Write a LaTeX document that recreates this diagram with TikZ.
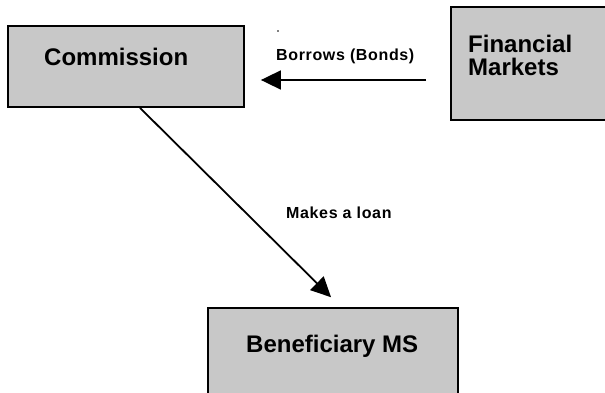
\documentclass[tikz,border=0pt]{standalone}
\usepackage{fontspec}
\setmainfont{Liberation Sans}
\newfontfamily\labelfont[LetterSpace=4]{Liberation Sans}
\usetikzlibrary{arrows.meta,calc}
\definecolor{boxgray}{RGB}{200,200,200}
\tikzset{
  entity/.style={draw=black, fill=boxgray, line width=1.8pt, inner sep=0pt, rectangle},
  title/.style={anchor=base west, inner sep=0pt, font=\bfseries\fontsize{24}{23}\selectfont},
  flowlabel/.style={anchor=base west, inner sep=0pt, font=\labelfont\bfseries\fontsize{16}{16}\selectfont},
  flow/.style={line width=1.8pt, -{Triangle[length=20pt,width=19pt]}},
}
\begin{document}
\begin{tikzpicture}[x=1pt,y=-1pt]
  \useasboundingbox (0,0) rectangle (605,393);
  \clip (0,0) rectangle (605,393);

  % boxes
  \node[entity, minimum width=236pt, minimum height=81pt] (com) at (126,66.5) {};
  \node[entity, minimum width=169pt, minimum height=113pt] (fin) at (535.5,63.5) {};
  \node[entity, minimum width=250pt, minimum height=96pt] (ben) at (333,356) {};

  % box titles (base of a two-line title is its last line)
  \node[title] (comtext) at (44,66) {Commission};
  \node[title, align=left] (fintext) at (468,76) {Financial\\Markets};
  \node[title] (bentext) at (246,352) {Beneficiary MS};

  % borrowing on the markets
  \coordinate (flowy) at (0,80);
  \draw[flow, shorten <=24pt, shorten >=16pt] (fin.west |- flowy) -- (com.east |- flowy);
  \node[flowlabel] (borrow) at (276,61) {Borrows (Bonds)};
  \fill (278,31) circle (0.9pt) coordinate (dot);

  % loan to the member state
  \coordinate (loanstart) at ($(com.south)+(14,0)$);
  \coordinate (loanx) at ($(com.south)+(215,0)$);
  \draw[flow, shorten >=14pt] (loanstart) -- (loanx |- ben.north);
  \node[flowlabel] (loan) at (286,218) {Makes a loan};
\end{tikzpicture}
\end{document}
